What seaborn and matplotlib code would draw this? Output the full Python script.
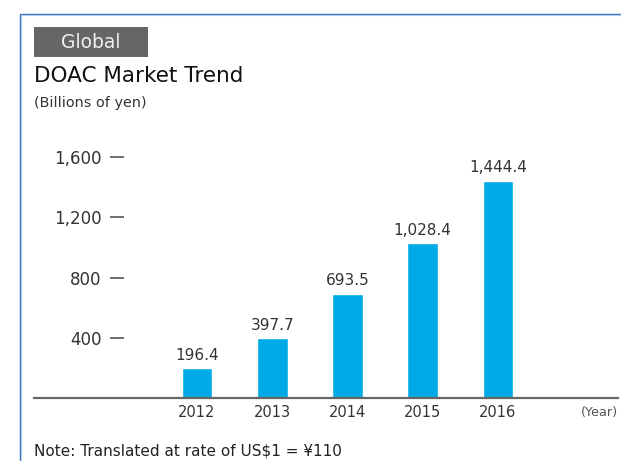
import pandas as pd
import numpy as np
import matplotlib.pyplot as plt
import matplotlib.patches as mpatches
import seaborn as sns

# Market size, billions of yen
years = ['2012', '2013', '2014', '2015', '2016']
values = [196.4, 397.7, 693.5, 1028.4, 1444.4]
y_ticks = [400, 800, 1200, 1600]

df = pd.DataFrame({'Year': years, 'Value': values})

sns.set_theme(style='white')
plt.rcParams['font.family'] = ['DejaVu Sans']

W, H = 621, 461
fig = plt.figure(figsize=(W / 100, H / 100), dpi=100)

def px(x, y):
    # pixel position (top-left origin) -> figure fraction
    return x / W, 1 - y / H

# axes spans pixel x 34..618, y 140..398
ax = fig.add_axes([34 / W, 1 - 398 / H, (618 - 34) / W, (398 - 140) / H])
ax.set_facecolor('none')

sns.barplot(data=df, x='Year', y='Value', order=years, color='#00aae6',
            width=0.41, saturation=1, ax=ax)

ax.set_xlim(-2.166, 5.595)
ax.set_ylim(0, 1715)
ax.set_yticks(y_ticks)
ax.set_yticklabels([f'{v:,}' for v in y_ticks])
ax.set_xlabel('')
ax.set_ylabel('')

for c in ax.containers:
    ax.bar_label(c, labels=[f'{v:,.1f}' for v in values], padding=4,
                 fontsize=11, color='#333333')

for s in ['top', 'right', 'left']:
    ax.spines[s].set_visible(False)
ax.spines['left'].set_position(('data', -0.97))
ax.spines['bottom'].set_color('#666666')
ax.spines['bottom'].set_linewidth(1.6)

ax.tick_params(axis='y', direction='out', length=10, width=1.2,
               color='#555555', pad=6, labelsize=12, labelcolor='#333333',
               left=True)
ax.tick_params(axis='x', length=0, pad=5, labelsize=10.5, labelcolor='#333333')

ax.text(1.0, -0.055, '(Year)', transform=ax.transAxes, ha='right', va='center',
        fontsize=9.3, color='#555555')

# frame: dark blue outer line with a pale inner line
fig.patches.append(mpatches.Rectangle(px(19.5, 470), (W + 20) / W, (470 - 13.5) / H,
                                      transform=fig.transFigure, fill=False,
                                      edgecolor='#3d6cb8', linewidth=1.0))
fig.patches.append(mpatches.Rectangle(px(20.8, 470), (W + 20) / W, (470 - 14.8) / H,
                                      transform=fig.transFigure, fill=False,
                                      edgecolor='#b5cdee', linewidth=0.8))

# "Global" tag
fig.patches.append(mpatches.Rectangle(px(34, 57), 114 / W, 30 / H,
                                      transform=fig.transFigure,
                                      facecolor='#666666', edgecolor='none'))
fig.text(*px(91, 42.5), 'Global', ha='center', va='center', fontsize=13.5,
         color='#f0f0f0')

fig.text(*px(34, 76), 'DOAC Market Trend', ha='left', va='center', fontsize=15.5,
         color='#111111')
fig.text(*px(34, 103), '(Billions of yen)', ha='left', va='center', fontsize=10.4,
         color='#333333')
fig.text(*px(34, 451), 'Note: Translated at rate of US$1 = ¥110', ha='left',
         va='center', fontsize=11, color='#222222')

fig.savefig('out.png', dpi=100)
plt.close()
